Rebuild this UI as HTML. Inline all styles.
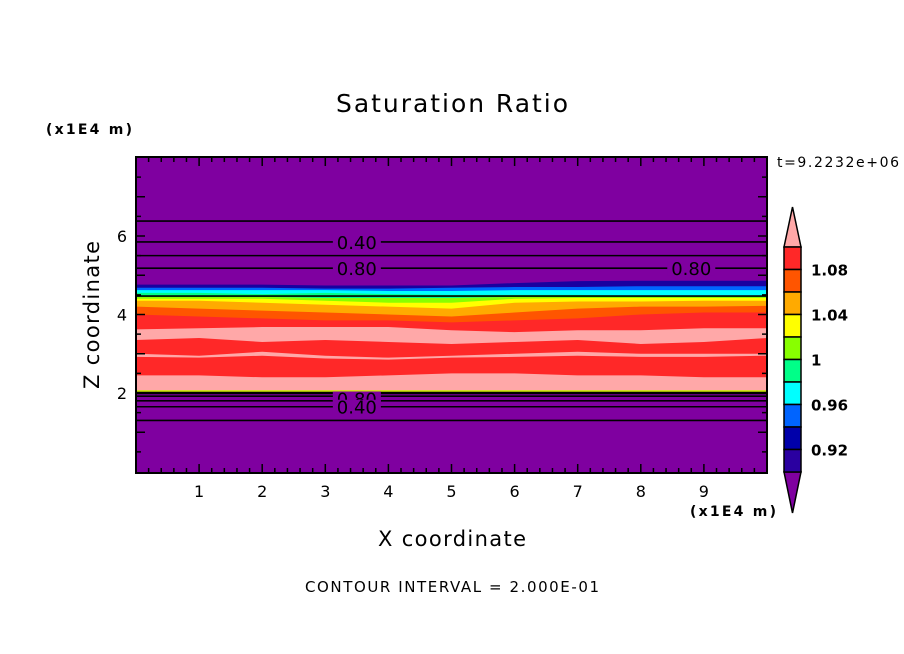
<!DOCTYPE html>
<html><head><meta charset="utf-8"><style>
html,body{margin:0;padding:0;background:#fff;width:904px;height:654px;overflow:hidden}
text{font-family:"DejaVu Sans","Liberation Sans",sans-serif;fill:#000}
</style></head><body>
<svg id="chart" width="904" height="654" xmlns="http://www.w3.org/2000/svg">
<text x="452" y="112" font-size="25" text-anchor="middle" textLength="232">Saturation Ratio</text>
<text x="46" y="134" font-size="14" font-weight="bold" textLength="86">(x1E4 m)</text>
<text x="777" y="167" font-size="14" textLength="122">t=9.2232e+06</text>
<text x="452" y="546" font-size="21" text-anchor="middle" textLength="148">X coordinate</text>
<text x="99" y="315" font-size="21" text-anchor="middle" textLength="148" transform="rotate(-90 99 315)">Z coordinate</text>
<text x="690" y="516" font-size="14" font-weight="bold" textLength="86">(x1E4 m)</text>
<text x="452" y="592" font-size="15" text-anchor="middle" textLength="294">CONTOUR INTERVAL = 2.000E-01</text>
<defs><clipPath id="pc"><rect x="136" y="157" width="631" height="316"/></clipPath></defs>
<g id="plot" clip-path="url(#pc)"></g>
<g id="axes"></g>
<g id="cbar"></g>
</svg>
<script>
const ns="http://www.w3.org/2000/svg";
// x samples (x1E4 m)
const xs=[0,1,2,3,4,5,6,7,8,9,10];
// filled layer top edges (z, x1E4 m), painted in order down to warmBottom
const layerNames=["dark-blue","blue","cyan","green","yellow-green","yellow","orange","orange-red","red","pink"];
const layerColors=["#1a00a0","#0064ff","#00ffff","#00ff88","#88ff00","#ffff00","#ffaa00","#ff5500","#ff2828","#ffa8a8"];
const layerTops=[
[4.76,4.76,4.76,4.74,4.74,4.74,4.8,4.85,4.86,4.86,4.86],
[4.68,4.68,4.68,4.66,4.66,4.68,4.7,4.7,4.72,4.72,4.72],
[4.62,4.62,4.62,4.62,4.6,4.6,4.62,4.62,4.62,4.62,4.62],
[4.55,4.55,4.52,4.55,4.52,4.5,4.5,4.5,4.48,4.48,4.48],
[4.45,4.45,4.45,4.42,4.42,4.42,4.45,4.45,4.45,4.45,4.45],
[4.4,4.4,4.4,4.35,4.3,4.3,4.4,4.42,4.42,4.42,4.42],
[4.35,4.35,4.3,4.25,4.2,4.15,4.3,4.33,4.33,4.35,4.35],
[4.2,4.15,4.1,4.05,4.0,3.95,4.05,4.15,4.2,4.2,4.22],
[4.0,3.95,3.9,3.85,3.85,3.8,3.85,3.9,4.0,4.05,4.05],
[3.62,3.65,3.68,3.68,3.68,3.6,3.55,3.6,3.6,3.65,3.65]
];
const warmBottom=2.05;
// red streak band (z top / bottom) inside the pink region
const redTop=[3.35,3.4,3.3,3.35,3.3,3.25,3.3,3.35,3.25,3.3,3.4];
const redBot=[2.45,2.45,2.4,2.4,2.45,2.5,2.5,2.45,2.45,2.4,2.4];
// pink streak inside red band
const pinkTop=[3.0,2.95,3.05,2.95,2.9,2.95,3.0,3.05,3.0,3.0,3.0];
const pinkBot=[2.92,2.9,2.95,2.88,2.85,2.9,2.92,2.95,2.92,2.92,2.95];
// contour lines (z levels) above and below the layer
const contourZ=[6.38,5.85,5.5,5.18,4.47,2.0,1.92,1.8,1.65,1.3];
const contourLabels=[{x:3.5,z:5.85,t:"0.40"},{x:3.5,z:5.18,t:"0.80"},{x:8.8,z:5.18,t:"0.80"},{x:3.5,z:1.86,t:"0.80"},{x:3.5,z:1.65,t:"0.40"}];
const xTicks=[1,2,3,4,5,6,7,8,9];
const yTicks=[2,4,6];
const cbarLabels=["1.08","1.04","1","0.96","0.92"];
const cbarColors=["#ff2828","#ff5500","#ffaa00","#ffff00","#88ff00","#00ff88","#00ffff","#0064ff","#0000aa","#2a00a0"];

const X0=136,X1=767,Y0=473,Y1=157;
const sx=v=>X0+(X1-X0)*v/10;
const sz=v=>471.5-39.25*v;
function el(tag,attrs,parent){const e=document.createElementNS(ns,tag);for(const k in attrs)e.setAttribute(k,attrs[k]);parent.appendChild(e);return e;}
const plot=document.getElementById('plot'),axes=document.getElementById('axes'),cb=document.getElementById('cbar');

let bg=el('rect',{x:X0,y:Y1,width:X1-X0,height:Y0-Y1,fill:'#7f00a0'},plot);


function band(top,bot,fill,name){
  let d='M'+xs.map((x,i)=>sx(x)+','+sz(top[i])).join('L');
  for(let i=xs.length-1;i>=0;i--)d+='L'+sx(xs[i])+','+sz(Array.isArray(bot)?bot[i]:bot);
  const p=el('path',{d:d+'Z',fill:fill},plot);
  
  
}
layerTops.forEach((t,i)=>band(t,warmBottom,layerColors[i],'band-'+layerNames[i]));
band(redTop,redBot,'#ff2828','band-red-streak');
band(pinkTop,pinkBot,'#ffa8a8','band-pink-streak');
let ln=el('rect',{x:X0,y:sz(2.07),width:X1-X0,height:2,fill:'#ccee00'},plot);


contourZ.forEach((z,i)=>{
  const l=el('line',{x1:X0,x2:X1,y1:sz(z),y2:sz(z),stroke:'#000','stroke-width':i==5?2.5:1.6},plot);
  
  
});
contourLabels.forEach(c=>{
  const r=el('rect',{x:sx(c.x)-24,y:sz(c.z)-7,width:48,height:14,fill:'#7f00a0'},plot);
  
  
  const t=el('text',{x:sx(c.x),y:sz(c.z)+7,'font-size':18,'text-anchor':'middle'},plot);
  t.textContent=c.t;
  
  
});
let fr=el('rect',{x:X0,y:Y1,width:X1-X0,height:Y0-Y1,fill:'none',stroke:'#000','stroke-width':2},axes);


for(let k=1;k<50;k++){const v=k*0.2,x=sx(v),L=(k%5==0)?9:5;
  el('line',{x1:x,x2:x,y1:Y0,y2:Y0-L,stroke:'#000','stroke-width':1.5},axes);
  el('line',{x1:x,x2:x,y1:Y1,y2:Y1+L,stroke:'#000','stroke-width':1.5},axes);}
for(let k=1;k<16;k++){const v=k*0.5,y=sz(v),L=(k%2==0)?9:5;
  el('line',{x1:X0,x2:X0+L,y1:y,y2:y,stroke:'#000','stroke-width':1.5},axes);
  el('line',{x1:X1,x2:X1-L,y1:y,y2:y,stroke:'#000','stroke-width':1.5},axes);}
xTicks.forEach(v=>{const t=el('text',{x:sx(v),y:497,'font-size':16,'text-anchor':'middle'},axes);t.textContent=v;
  });
yTicks.forEach(v=>{const t=el('text',{x:122,y:sz(v)+6,'font-size':16,'text-anchor':'middle'},axes);t.textContent=v;
  });
// colorbar
const CX=784,CW=17,CT=247,CB=472,bh=(CB-CT)/cbarColors.length;
let tri=el('path',{d:`M${CX},${CT}L${CX+CW/2},207L${CX+CW},${CT}Z`,fill:'#ffa8a8',stroke:'#000','stroke-width':1.5},cb);

let tri2=el('path',{d:`M${CX},${CB}L${CX+CW/2},513L${CX+CW},${CB}Z`,fill:'#7f00a0',stroke:'#000','stroke-width':1.5},cb);

cbarColors.forEach((c,i)=>{const r=el('rect',{x:CX,y:CT+i*bh,width:CW,height:bh,fill:c,stroke:'#000','stroke-width':1.5},cb);
  });
cbarLabels.forEach((s,i)=>{const t=el('text',{x:811,y:CT+(1+2*i)*bh+6,'font-size':15,'font-weight':'bold'},cb);t.textContent=s;
  });
</script>
</body></html>
